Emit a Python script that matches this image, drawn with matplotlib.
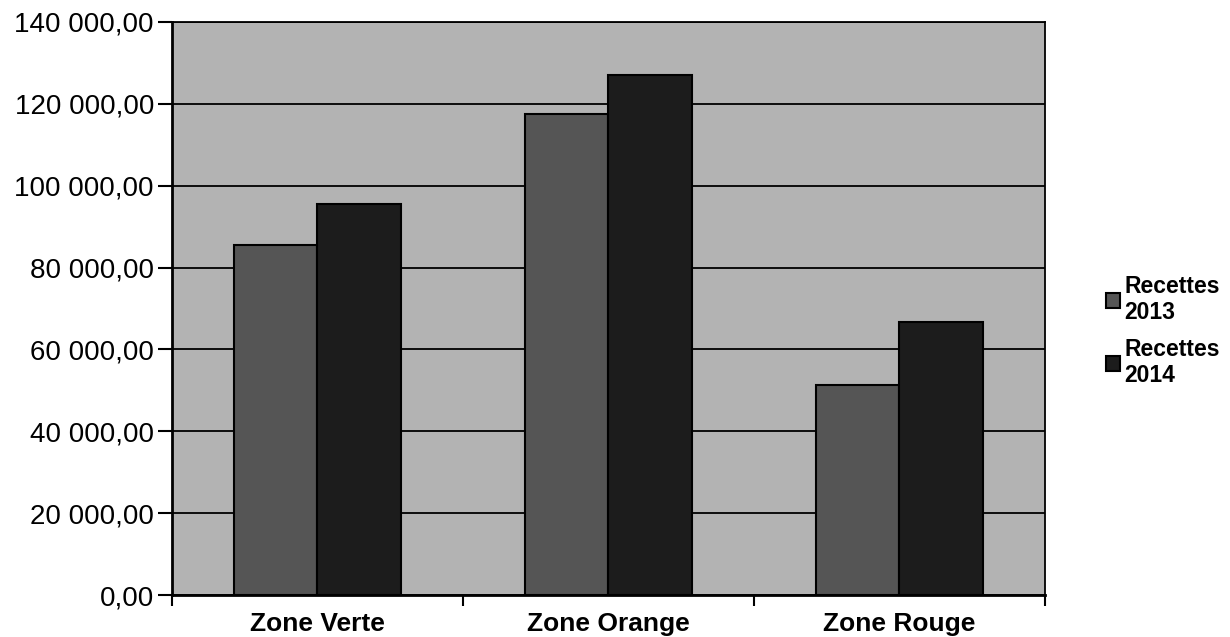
import matplotlib
matplotlib.use("Agg")
import matplotlib.pyplot as plt
import numpy as np
from matplotlib.ticker import FuncFormatter, MultipleLocator

categories = ["Zone Verte", "Zone Orange", "Zone Rouge"]
series_names = ["Recettes\n2013", "Recettes\n2014"]
recettes_2013 = [85500, 117500, 51300]
recettes_2014 = [95500, 127000, 66700]

plt.rcParams['font.family'] = ['Liberation Sans', 'DejaVu Sans']

fig = plt.figure(figsize=(12.3, 6.37), dpi=100)
fig.patch.set_facecolor("white")
ax = fig.add_axes([0.1398, 0.0659, 0.7098, 0.8996])
ax.set_facecolor("#b3b3b3")

x = np.arange(len(categories))
w = 1 / 3.5
ax.bar(x - w / 2, recettes_2013, w, color="#555555", edgecolor="black", linewidth=1.5,
       label=series_names[0], zorder=3)
ax.bar(x + w / 2, recettes_2014, w, color="#1c1c1c", edgecolor="black", linewidth=1.5,
       label=series_names[1], zorder=3)

ax.set_xlim(-0.5, len(categories) - 0.5)
ax.set_ylim(0, 140000)
ax.yaxis.set_major_locator(MultipleLocator(20000))

def fmt(v, pos):
    s = f"{v:,.2f}"
    return s.replace(",", " ").replace(".", ",")
ax.yaxis.set_major_formatter(FuncFormatter(fmt))
ax.grid(axis="y", color="black", linewidth=1.3, zorder=1)

ax.set_xticks(np.arange(-0.5, len(categories), 1.0))
ax.set_xticklabels([])
ax.set_xticks(x, minor=True)
ax.set_xticklabels(categories, minor=True, fontsize=19, fontweight="bold")
ax.tick_params(axis="x", which="minor", length=0, pad=12)
ax.tick_params(axis="x", which="major", length=8, width=1.5, direction="out")
ax.tick_params(axis="y", length=10, width=1.5, labelsize=20, pad=3)
for lab in ax.get_yticklabels():
    lab.set_fontweight("medium")

for side in ["left", "bottom"]:
    ax.spines[side].set_linewidth(2)
for side in ["top", "right"]:
    ax.spines[side].set_linewidth(1.3)

leg = fig.legend(loc="upper left", bbox_to_anchor=(0.899, 0.569), frameon=False,
                 prop={"size": 16.5, "weight": "bold"}, handlelength=0.6, handleheight=0.6,
                 handletextpad=0.2, labelspacing=0.6, borderpad=0, borderaxespad=0)

fig.savefig("out.png", dpi=100)
